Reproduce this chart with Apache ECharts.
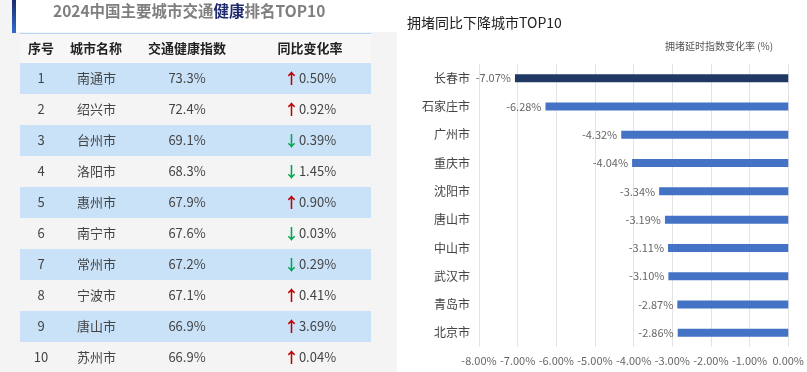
<!DOCTYPE html>
<html>
<head>
<meta charset="utf-8">
<script src="https://cdn.jsdelivr.net/npm/echarts@6/dist/echarts.min.js"></script>
<style>
  html, body { margin: 0; padding: 0; background: #fff; }
  #chart { width: 807px; height: 372px; }
</style>
</head>
<body>
<div id="chart"></div>
<script>
// left table
const ranks = [1, 2, 3, 4, 5, 6, 7, 8, 9, 10];
const tableCities = ['南通市', '绍兴市', '台州市', '洛阳市', '惠州市', '南宁市', '常州市', '宁波市', '唐山市', '苏州市'];
const healthIndex = [73.3, 72.4, 69.1, 68.3, 67.9, 67.6, 67.2, 67.1, 66.9, 66.9];
const yoyChange = [0.50, 0.92, -0.39, -1.45, 0.90, -0.03, -0.29, 0.41, 3.69, 0.04];
const tableHeaders = ['序号', '城市名称', '交通健康指数', '同比变化率'];

// right chart
const barCities = ['长春市', '石家庄市', '广州市', '重庆市', '沈阳市', '唐山市', '中山市', '武汉市', '青岛市', '北京市'];
const delayChange = [-7.07, -6.28, -4.32, -4.04, -3.34, -3.19, -3.11, -3.10, -2.87, -2.86];

const FONT = '"Noto Sans CJK SC", "Noto Sans", sans-serif';
const chart = echarts.init(document.getElementById('chart'));

const tableLeft = 20, tableRight = 371, headTop = 33, headH = 30, rowH = 31;
const colX = [41, 77, 187, 310];
const elements = [];

// backgrounds
elements.push({ type: 'rect', shape: { x: 0, y: 0, width: 397, height: 372 }, style: { fill: '#f4f4f4' }, silent: true });
elements.push({ type: 'rect', shape: { x: 16, y: 0, width: 381, height: 32 }, style: { fill: '#ffffff' }, silent: true });
elements.push({
  type: 'rect', shape: { x: 12, y: 0, width: 4, height: 33 },
  style: { fill: new echarts.graphic.LinearGradient(0, 0, 0, 1, [{ offset: 0, color: '#1b2a6b' }, { offset: 1, color: '#2f6fd0' }]) },
  silent: true
});
elements.push({
  type: 'text', left: 53, top: 3,
  style: {
    text: '{g|2024中国主要城市交通}{b|健康}{g|排名TOP10}',
    rich: {
      g: { fill: '#7f7f7f', fontSize: 15.5, fontWeight: 'bold', fontFamily: FONT },
      b: { fill: '#1f2a6e', fontSize: 15.5, fontWeight: 'bold', fontFamily: FONT }
    }
  }
});

// header
elements.push({ type: 'rect', shape: { x: tableLeft, y: headTop, width: tableRight - tableLeft, height: headH }, style: { fill: '#f7f7f7' }, silent: true });
elements.push({ type: 'rect', shape: { x: tableLeft, y: headTop, width: tableRight - tableLeft, height: 1 }, style: { fill: '#b4d4f2' }, silent: true });
tableHeaders.forEach((h, i) => {
  elements.push({
    type: 'text', x: i === 1 ? 70 : colX[i], y: headTop + headH / 2,
    style: { text: h, fill: '#222', fontSize: 13, fontWeight: 'bold', fontFamily: FONT, align: i === 1 ? 'left' : 'center', verticalAlign: 'middle' }
  });
});

// rows
ranks.forEach((r, i) => {
  const y0 = headTop + headH + i * rowH;
  const cy = y0 + rowH / 2;
  if (i % 2 === 0) {
    elements.push({ type: 'rect', shape: { x: tableLeft, y: y0, width: tableRight - tableLeft, height: rowH }, style: { fill: '#c9e2f8' }, silent: true });
  }
  const txt = { fill: '#444', fontSize: 13, fontFamily: FONT, verticalAlign: 'middle' };
  elements.push({ type: 'text', x: colX[0], y: cy, style: Object.assign({ text: String(r), align: 'center' }, txt) });
  elements.push({ type: 'text', x: colX[1], y: cy, style: Object.assign({ text: tableCities[i], align: 'left' }, txt) });
  elements.push({ type: 'text', x: colX[2], y: cy, style: Object.assign({ text: healthIndex[i].toFixed(1) + '%', align: 'center' }, txt) });
  const up = yoyChange[i] >= 0;
  elements.push({
    type: 'text', x: colX[3], y: cy,
    style: {
      text: (up ? '{u|↑}' : '{d|↓}') + '{v|' + Math.abs(yoyChange[i]).toFixed(2) + '%}',
      align: 'center', verticalAlign: 'middle',
      rich: {
        u: { fill: '#c00000', fontSize: 15, fontWeight: 'bold', fontFamily: FONT },
        d: { fill: '#00a651', fontSize: 15, fontWeight: 'bold', fontFamily: FONT },
        v: { fill: '#444', fontSize: 13, fontFamily: FONT }
      }
    }
  });
});

// right chart titles
elements.push({ type: 'text', left: 407, top: 16, style: { text: '拥堵同比下降城市TOP10', fill: '#222', fontSize: 14, fontFamily: FONT } });
elements.push({ type: 'text', left: 665, top: 41, style: { text: '拥堵延时指数变化率 (%)', fill: '#555', fontSize: 10, fontFamily: FONT } });

chart.setOption({
  backgroundColor: '#ffffff',
  animation: false,
  graphic: { elements: elements },
  grid: { left: 479, right: 18, top: 64, bottom: 25 },
  xAxis: {
    type: 'value', min: -8, max: 0, interval: 1,
    axisLine: { show: false }, axisTick: { show: false },
    splitLine: { lineStyle: { color: '#e3e3e3' } },
    axisLabel: { color: '#666', fontSize: 11, fontFamily: FONT, margin: 8, formatter: v => v.toFixed(2) + '%' }
  },
  yAxis: {
    type: 'category', inverse: true, data: barCities,
    axisLine: { show: false }, axisTick: { show: false },
    axisLabel: { color: '#444', fontSize: 12, fontFamily: FONT, margin: 9 }
  },
  series: [{
    type: 'bar',
    data: delayChange,
    barWidth: 8,
    itemStyle: { color: p => p.dataIndex === 0 ? '#203864' : '#4472c4' },
    label: { show: true, position: 'left', distance: 4, color: '#666', fontSize: 11, fontFamily: FONT, formatter: p => p.value.toFixed(2) + '%' }
  }]
});
</script>
</body>
</html>
